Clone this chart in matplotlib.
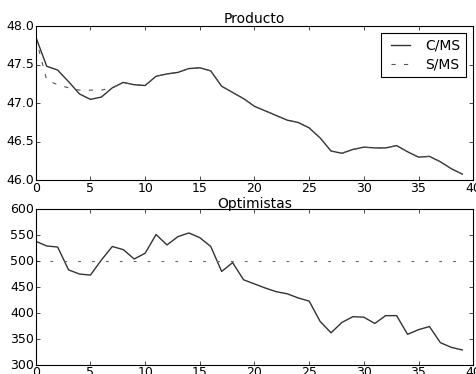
import matplotlib
matplotlib.use("Agg")
import matplotlib.pyplot as plt
plt.style.use('classic')

# semanas
x = list(range(40))

# Producto, con y sin medidas
prod_cms = [47.86, 47.48, 47.43, 47.28, 47.12, 47.05, 47.08, 47.20, 47.27, 47.24,
            47.23, 47.35, 47.38, 47.40, 47.45, 47.46, 47.42, 47.22, 47.14, 47.06,
            46.96, 46.90, 46.84, 46.78, 46.75, 46.68, 46.55, 46.38, 46.35, 46.40,
            46.43, 46.42, 46.42, 46.45, 46.37, 46.30, 46.31, 46.24, 46.15, 46.08]
prod_sms = [47.85, 47.30, 47.24, 47.20, 47.17, 47.17, 47.17, 47.20, 47.27, 47.24,
            47.23, 47.35, 47.38, 47.40, 47.45, 47.46, 47.42, 47.22, 47.14, 47.06,
            46.96, 46.90, 46.84, 46.78, 46.75, 46.68, 46.55, 46.38, 46.35, 46.40,
            46.43, 46.42, 46.42, 46.45, 46.37, 46.30, 46.31, 46.24, 46.15, 46.08]

# Optimistas
opt_cms = [538, 529, 527, 483, 475, 473, 502, 528, 522, 504,
           515, 551, 531, 547, 554, 545, 528, 480, 497, 464,
           456, 448, 441, 437, 429, 423, 384, 362, 382, 393,
           392, 380, 395, 395, 359, 368, 374, 343, 334, 329]
opt_sms = [500] * 40

fig = plt.figure(figsize=(4.77, 3.74), dpi=100, facecolor='white')
ax1 = fig.add_axes([0.075, 0.518, 0.917, 0.412])
ax2 = fig.add_axes([0.075, 0.024, 0.917, 0.417])

ax1.plot(x, prod_cms, '-', color='#333333', lw=1.0, label='C/MS')
ax1.plot(x, prod_sms, '--', color='#555555', lw=0.8, dashes=(3, 6), label='S/MS')
ax1.set_ylim(46.0, 48.0)
ax1.set_yticks([46.0, 46.5, 47.0, 47.5, 48.0])
ax1.set_title('Producto', fontsize=10, pad=2)
leg = ax1.legend(loc='upper right', fontsize=10, handlelength=2.0,
                 borderaxespad=0.5, labelspacing=0.35, borderpad=0.4)
leg.get_frame().set_linewidth(0.8)

ax2.plot(x, opt_cms, '-', color='#333333', lw=1.0)
ax2.plot(x, opt_sms, '--', color='#666666', lw=0.8, dashes=(2, 8))
ax2.set_ylim(300, 600)
ax2.set_yticks(range(300, 601, 50))
ax2.set_title('Optimistas', fontsize=10, pad=1)

for ax in (ax1, ax2):
    ax.set_xlim(0, 40)
    ax.set_xticks(range(0, 41, 5))
    ax.tick_params(labelsize=9, pad=1, length=3)
    for s in ax.spines.values():
        s.set_linewidth(0.8)

fig.savefig('out.png', dpi=100, facecolor='white')
